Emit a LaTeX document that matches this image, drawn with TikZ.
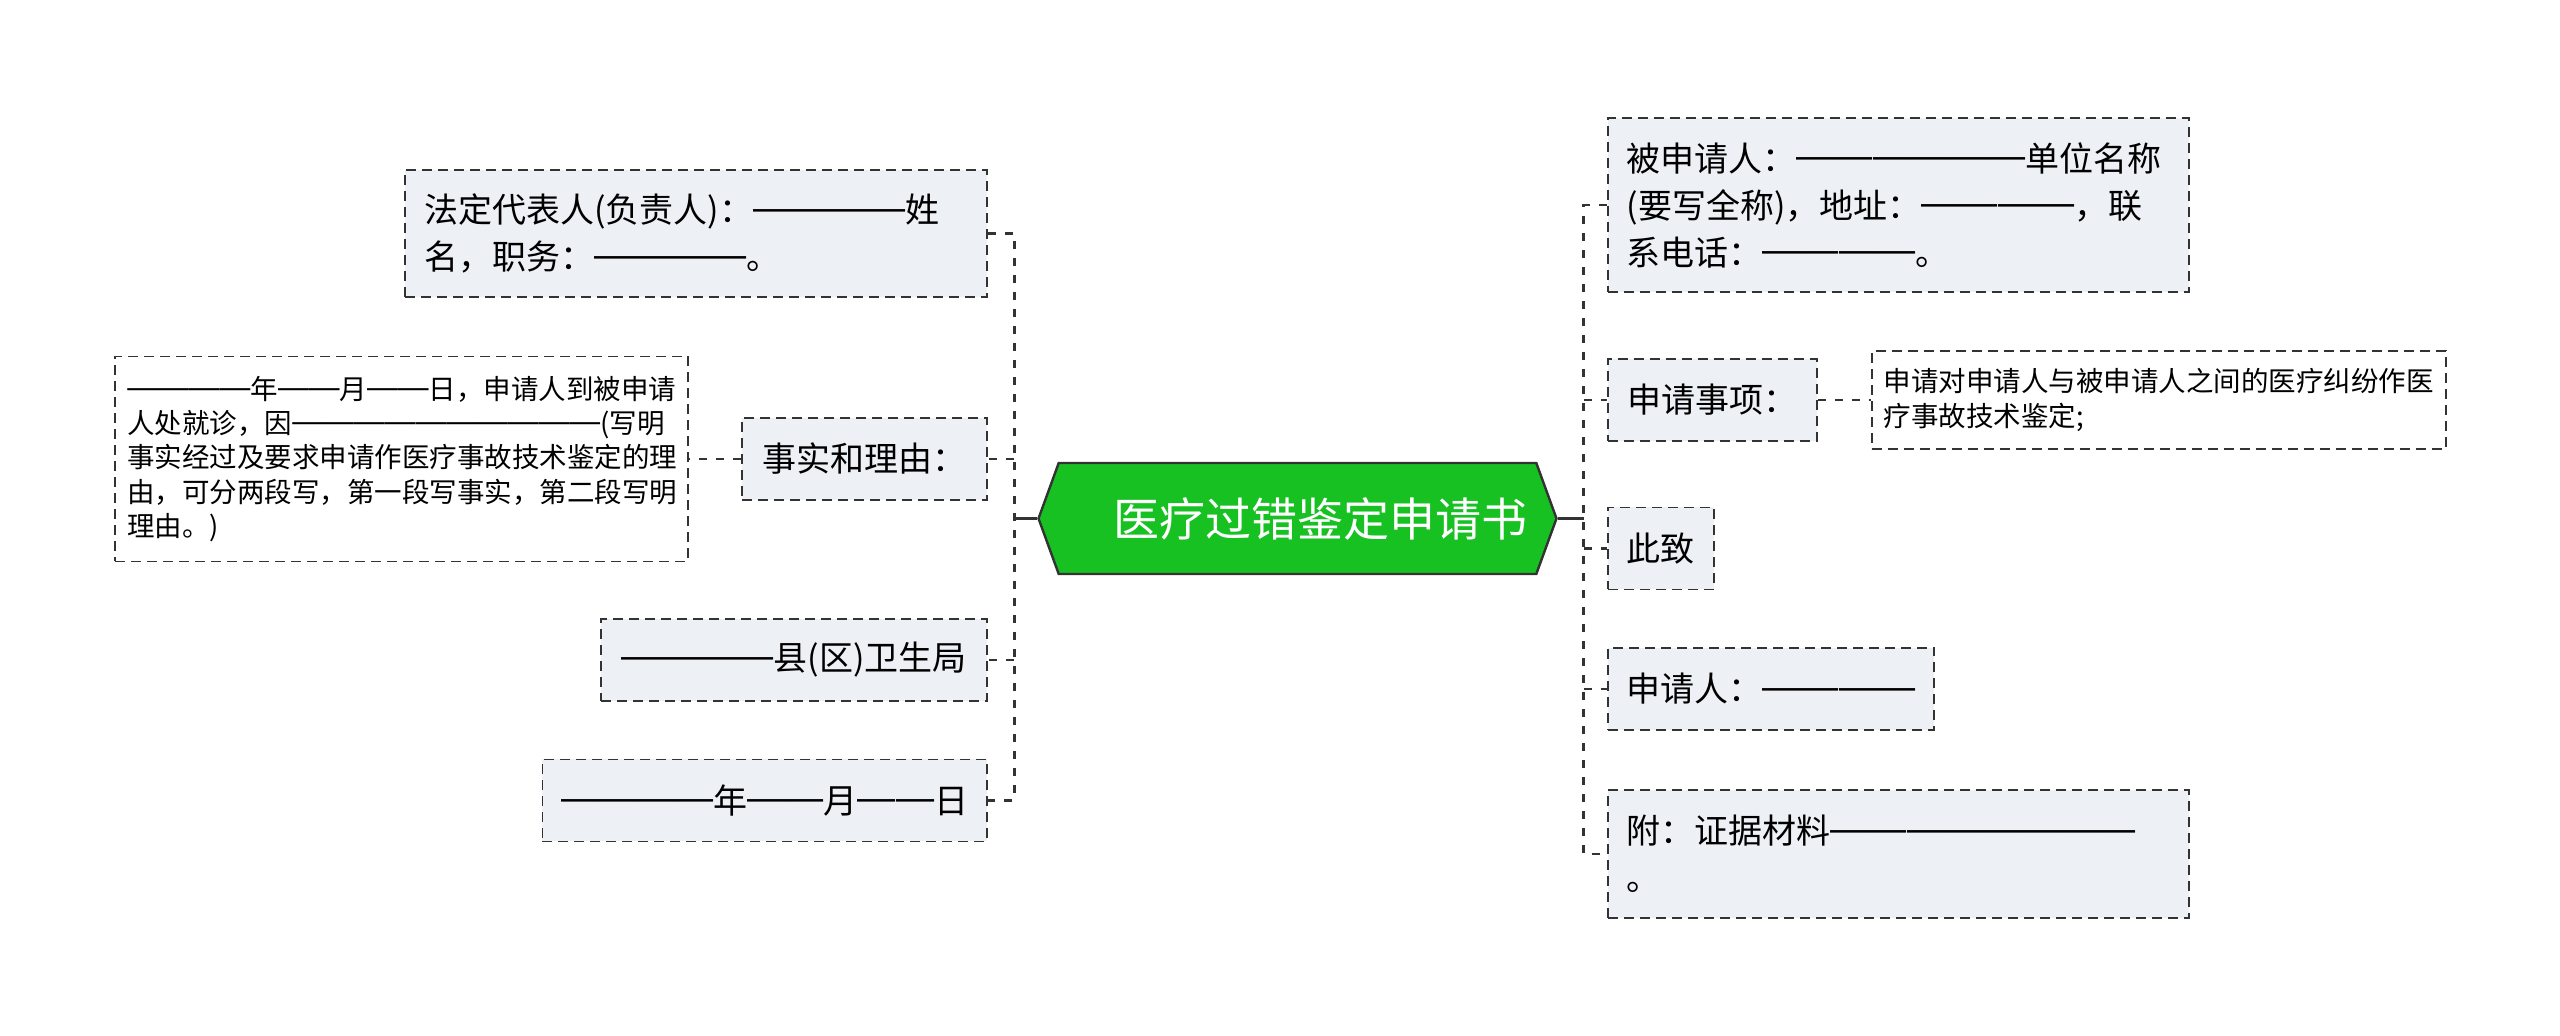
\documentclass[tikz,border=0pt]{standalone}
\usepackage{fontspec}
\setmainfont{Noto Sans CJK SC}
\newfontfamily\dashfont{Liberation Sans}[Scale=1.12]
\newcommand{\dashrun}[1]{\raisebox{0.075em}{\dashfont #1}}
\usepackage{tikz}
\usetikzlibrary{positioning,shapes.symbols}
\definecolor{mapgreen}{RGB}{23,193,34}
\definecolor{mapfill}{RGB}{237,240,244}
\definecolor{mapline}{RGB}{51,51,51}

\begin{document}
\begin{tikzpicture}[
    x=0.5pt, y=-0.5pt,
    font=\fontsize{17pt}{23.5pt}\selectfont,
    hub/.style={shape=signal, signal to=west and east, signal pointer angle=140, draw=mapline, line width=1.2pt, fill=mapgreen, text=white, minimum width=259pt, minimum height=55.5pt, inner xsep=0pt, font=\fontsize{23pt}{28pt}\selectfont},
    blk/.style={draw=mapline, line width=0.9pt, dash pattern=on 5pt off 3pt, fill=mapfill, minimum height=41pt, inner xsep=9.5pt, inner ysep=0pt, align=left},
    note/.style={blk, fill=white, inner xsep=6pt, font=\fontsize{13.75pt}{17.15pt}\selectfont},
    lnk/.style={draw=mapline, line width=1.35pt},
    dln/.style={lnk, dash pattern=on 4pt off 4.5pt}
]
    \path[use as bounding box, fill=white] (0,0) rectangle (2560,1036);

    \node[hub] (book) at (1297.5,518.5) {\hspace*{22.5pt}医疗过错鉴定申请书};

    \node[blk, anchor=east, text width=272pt, minimum height=63.5pt] (rep) at (988,233.5) {法定代表人(负责人)：\dashrun{————}姓\\名，职务：\dashrun{————}。};
    \node[blk, anchor=east, minimum width=122.5pt] (fact) at (988,459) {事实和理由：};
    \node[note, left=26pt of fact, text width=274.5pt, minimum height=102.5pt] (detail) {\dashrun{————}年\dashrun{——}月\dashrun{——}日，申请人到被申请\\人处就诊，因\dashrun{——————————}(写明\\事实经过及要求申请作医疗事故技术鉴定的理\\由，可分两段写，第一段写事实，第二段写明\\理由。)};
    \node[blk, anchor=east, minimum width=193pt] (bureau) at (988,660) {\dashrun{————}县(区)卫生局};
    \node[blk, anchor=east, minimum width=221.5pt] (date) at (988,800.5) {\dashrun{————}年\dashrun{——}月\dashrun{——}日};

    \node[blk, anchor=west, text width=271.5pt, minimum height=87pt] (resp) at (1607,205) {被申请人：\dashrun{——————}单位名称\\(要写全称)，地址：\dashrun{————}，联\\系电话：\dashrun{————}。};
    \node[blk, anchor=west, minimum width=104.5pt] (req) at (1607,400) {申请事项：};
    \node[note, right=26.5pt of req, text width=275pt, minimum height=49pt] (reqtxt) {申请对申请人与被申请人之间的医疗纠纷作医\\疗事故技术鉴定;};
    \node[blk, anchor=west, minimum width=52.5pt] (close) at (1607,548.5) {此致};
    \node[blk, anchor=west, minimum width=163pt] (appl) at (1607,689) {申请人：\dashrun{————}};
    \node[blk, anchor=west, text width=271.5pt, minimum height=64pt] (att) at (1607,854) {附：证据材料\dashrun{————————}\\。};

    \coordinate[left=11.5pt of book.west] (lt);
    \coordinate[right=13pt of book.east] (rt);

    \draw[lnk] (book.west) -- (lt);
    \draw[dln] (rep.east) -| (lt |- date.east) -- (date.east);
    \draw[dln] (lt |- fact.east) -- (fact.east);
    \draw[dln] (lt |- bureau.east) -- (bureau.east);
    \draw[dln] (fact.west) -- (detail.east);

    \draw[lnk] (book.east) -- (rt);
    \draw[dln] (resp.west) -| (rt |- att.west) -- (att.west);
    \draw[dln] (rt |- req.west) -- (req.west);
    \draw[dln] (rt |- close.west) -- (close.west);
    \draw[dln] (rt |- appl.west) -- (appl.west);
    \draw[dln] (req.east) -- (reqtxt.west);
\end{tikzpicture}
\end{document}
